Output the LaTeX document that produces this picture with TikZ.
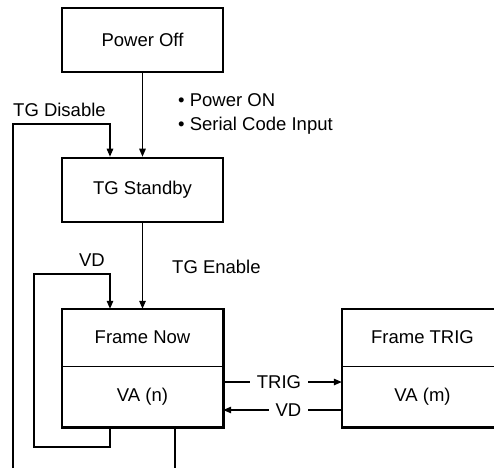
\documentclass[tikz,border=0pt]{standalone}
\usepackage{fontspec}
\setmainfont{Liberation Sans}
\usetikzlibrary{arrows.meta}
\usetikzlibrary{positioning}
\tikzset{
	statebox/.style={draw, line width=2.6pt, minimum width=161pt, minimum height=64pt, inner sep=0pt},
	halfbox/.style={minimum width=161pt, inner sep=0pt},
	flow/.style={line width=1.3pt, -{Triangle[length=8pt, width=6.5pt]}},
	wire/.style={line width=1.3pt},
	lbl/.style={inner sep=0pt, font=\fontsize{18.5}{24}\selectfont},
	gaplbl/.style={lbl, fill=white, inner xsep=7pt}
}

\begin{document}
\begin{tikzpicture}[x=1pt, y=-1pt, font=\fontsize{18.5}{24}\selectfont]
	\useasboundingbox (0,0) rectangle (494,468);
	\node[statebox] (off) at (142.5,40) {Power Off};
	\node[statebox] (standby) at (142.5,190) {TG Standby};
	\node[halfbox, minimum height=57pt] (nowtop) at (142.5,337.5) {Frame Now};
	\node[halfbox, minimum height=61pt, below=0pt of nowtop] (nowva) {VA (n)};
	\node[halfbox, minimum height=57pt] (trigtop) at (422.5,337.5) {Frame TRIG};
	\node[halfbox, minimum height=61pt, below=0pt of trigtop] (trigva) {VA (m)};
	\draw[line width=2.6pt] (nowtop.north west) rectangle (nowva.south east);
	\draw[line width=2.6pt] (trigtop.north west) rectangle (trigva.south east);
	\draw[wire] (nowtop.south west) -- (nowtop.south east);
	\draw[wire] (trigtop.south west) -- (trigtop.south east);
	% power up
	\draw[flow] (off) -- (standby);
	\node[lbl, align=left, anchor=west] (pwron) at (178,114) {\textbullet\ Power ON\\\textbullet\ Serial Code Input};
	% disable path
	\coordinate (disin) at (13,468);
	\draw[flow] (disin) |- (110,124) -- (standby.north -| 110,0);
	\node[lbl, anchor=west] (dislbl) at (13,110) {TG Disable};
	% enable
	\draw[flow] (standby) -- (nowtop);
	\node[lbl, anchor=west] (enlbl) at (172,267) {TG Enable};
	% VD loop
	\draw[flow] (nowva.south -| 110,0) -- (110,447) -| (34,274) -| (nowtop.north -| 110,0);
	\node[lbl] (vdloop) at (92,260) {VD};
	\coordinate (nowout) at (175,468);
	\draw[wire] (nowva.south -| nowout) -- (nowout);
	% trig / vd
	\draw[flow] (nowva.east |- 0,382) -- node[gaplbl, pos=0.47] (trig) {TRIG} (trigva.west |- 0,382);
	\draw[flow] (trigva.west |- 0,410) -- node[gaplbl, pos=0.45] (vd) {VD} (nowva.east |- 0,410);
\end{tikzpicture}
\end{document}
